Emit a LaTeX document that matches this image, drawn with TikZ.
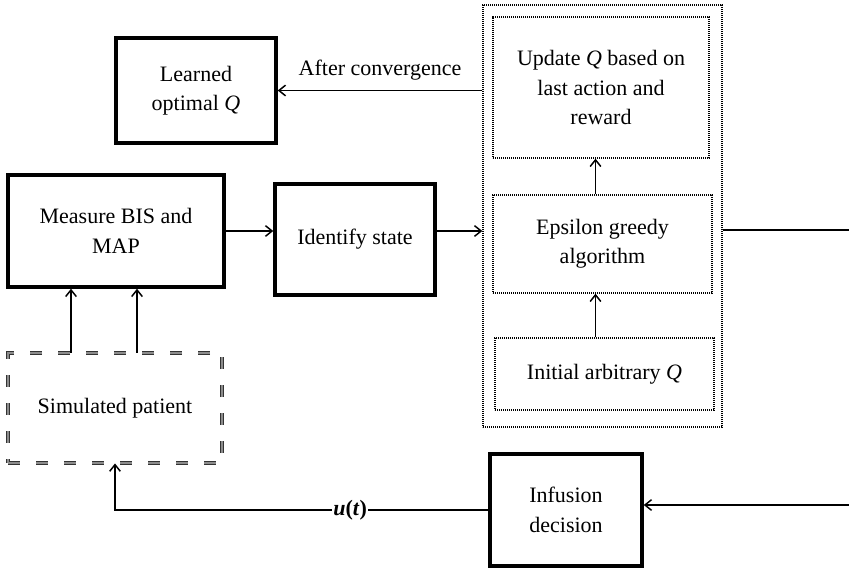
\documentclass[tikz,border=0pt]{standalone}
\usepackage{fontspec}
\setmainfont{Liberation Serif}
\usetikzlibrary{positioning, calc, arrows.meta}
\newcommand{\pxu}{0.75pt}

\begin{document}
\begin{tikzpicture}[x=0.75pt,y=-0.75pt,
    font=\fontsize{16.5pt}{22pt}\selectfont,
    blocco/.style={draw, line width=2.6pt, align=center, inner sep=0pt},
    puntini/.style={draw, line width=1pt, dash pattern=on 0.8pt off 0.7pt, align=center, inner sep=0pt},
    paziente/.style={draw=black!80, line width=0.7pt, double=black!45, double distance=1.6pt, dash pattern=on 9pt off 12pt, inner sep=0pt},
    freccia/.style={line width=1.1pt, -{Straight Barb[length=5pt,width=8pt]}},
    linea/.style={line width=1.1pt}]
    \useasboundingbox (0,0) rectangle (849,569);
		%blocchi a sinistra
		\node[blocco, minimum width=160*\pxu, minimum height=105*\pxu] (learned) at (196,90.5) {Learned\\optimal \textit{Q}};
		\node[blocco, minimum width=216*\pxu, minimum height=112*\pxu] (measure) at (116,231) {Measure BIS and\\MAP};
		\node[blocco, minimum width=160*\pxu, minimum height=111*\pxu] (identify) at (355,239.5) {Identify state};
		\node[paziente, minimum width=214*\pxu, minimum height=110*\pxu] (patient) at (115,408) {Simulated patient};
		\node[blocco, minimum width=152*\pxu, minimum height=112*\pxu] (infusion) at (566,510) {Infusion\\decision};
        %riquadro Q-learning
		\node[puntini, minimum width=239*\pxu, minimum height=422*\pxu] (outer) at (602.5,216) {};
		\node[puntini, minimum width=216*\pxu, minimum height=141*\pxu] (update) at (601,87.5) {Update \textit{Q} based on\\last action and\\reward};
		\node[puntini, minimum width=219*\pxu, minimum height=98*\pxu] (epsilon) at (602.5,244) {Epsilon greedy\\algorithm};
		\node[puntini, minimum width=219*\pxu, minimum height=72*\pxu] (initial) at (604.5,374) {Initial arbitrary \textit{Q}};
        %estremi a destra
		\coordinate (rt) at (849,230);
		\coordinate (rb) at (849,505);

		%frecce
		\draw[freccia] (measure.east) -- (measure.east -| identify.west);
		\draw[freccia] (measure.east -| identify.east) -- (measure.east -| outer.west);
		\draw[freccia] (learned.east -| outer.west) -- (learned.east) node[midway, above=4pt] {After convergence};
		\draw[freccia] ($(epsilon.north)+(-7,0)$) -- ($(epsilon.north |- update.south)+(-7,0)$);
		\draw[freccia] ($(initial.north)+(-9,0)$) -- ($(initial.north |- epsilon.south)+(-9,0)$);
		\draw[linea] (outer.east |- rt) -- (rt);
		\draw[freccia] (rb) -- (infusion.east |- rb);
		\draw[freccia] ($(patient.north)+(-44,0)$) -- ($(measure.south)+(-45,0)$);
		\draw[freccia] ($(patient.north)+(22,0)$) -- ($(measure.south)+(21,0)$);
		\draw[freccia] (infusion.west) -- (infusion.west -| patient.south) node[pos=0.37, fill=white, inner sep=1pt] {\textbf{\textit{u}(\textit{t})}} -- (patient.south);
\end{tikzpicture}
\end{document}
